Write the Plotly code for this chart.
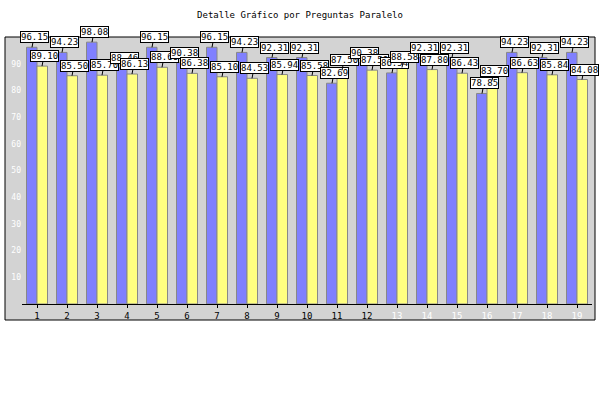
import plotly.graph_objects as go

categories = [str(i) for i in range(1, 20)]
serie_azul = [96.15, 94.23, 98.08, 88.46, 96.15, 90.38, 96.15, 94.23, 92.31, 92.31,
              82.69, 90.38, 86.54, 92.31, 92.31, 78.85, 94.23, 92.31, 94.23]
serie_amarilla = [89.10, 85.50, 85.70, 86.13, 88.66, 86.38, 85.10, 84.53, 85.94, 85.58,
                  87.50, 87.59, 88.58, 87.80, 86.43, 83.70, 86.63, 85.84, 84.08]
tick_labels = [c if int(c) <= 12 else '<span style="color:white">%s</span>' % c for c in categories]
y_ticks = [10, 20, 30, 40, 50, 60, 70, 80, 90]

MONO = "DejaVu Sans Mono"

fig = go.Figure()
fig.add_trace(go.Bar(x=categories, y=serie_azul, name="A",
                     marker=dict(color="#8080ff", line=dict(color="#888888", width=1))))
fig.add_trace(go.Bar(x=categories, y=serie_amarilla, name="B",
                     marker=dict(color="#ffff80", line=dict(color="#888888", width=1))))

annotations = []
for i, c in enumerate(categories):
    for vals, shift in ((serie_azul, -5), (serie_amarilla, 5)):
        v = vals[i]
        annotations.append(dict(
            x=i, y=v, xref="x", yref="y", xshift=shift,
            text="%.2f" % v, showarrow=True, arrowhead=0, arrowwidth=1,
            arrowcolor="black", ax=2, ay=-10,
            font=dict(family=MONO, size=9, color="black"),
            bgcolor="white", bordercolor="black", borderwidth=1, borderpad=0,
        ))

fig.update_layout(
    width=600, height=400,
    margin=dict(l=22, r=8, t=37, b=96),
    paper_bgcolor="white", plot_bgcolor="rgba(0,0,0,0)",
    barmode="group", bargap=0.3, bargroupgap=0,
    showlegend=False,
    title=dict(text="Detalle Gráfico por Preguntas Paralelo", x=0.5, xanchor="center",
               y=1 - 15 / 400, yanchor="middle",
               font=dict(family=MONO, size=9, color="black")),
    shapes=[dict(type="rect", xref="paper", yref="paper",
                 x0=(5 - 22) / 570, x1=(595 - 22) / 570,
                 y0=(304 - 320) / 267, y1=1.0,
                 fillcolor="#d3d3d3", line=dict(color="black", width=1), layer="below")],
    annotations=annotations,
    xaxis=dict(type="category", tickmode="array", tickvals=categories, ticktext=tick_labels,
               range=[-0.5, 18.5],
               showline=True, linecolor="black", linewidth=1,
               ticks="outside", ticklen=3, tickcolor="black",
               showgrid=False, zeroline=False,
               tickfont=dict(family=MONO, size=9, color="black")),
    yaxis=dict(range=[0, 100], tickvals=y_ticks, showgrid=False, zeroline=False,
               showline=False, ticks="",
               tickfont=dict(family=MONO, size=8, color="white")),
)

fig.write_html("out.html")
